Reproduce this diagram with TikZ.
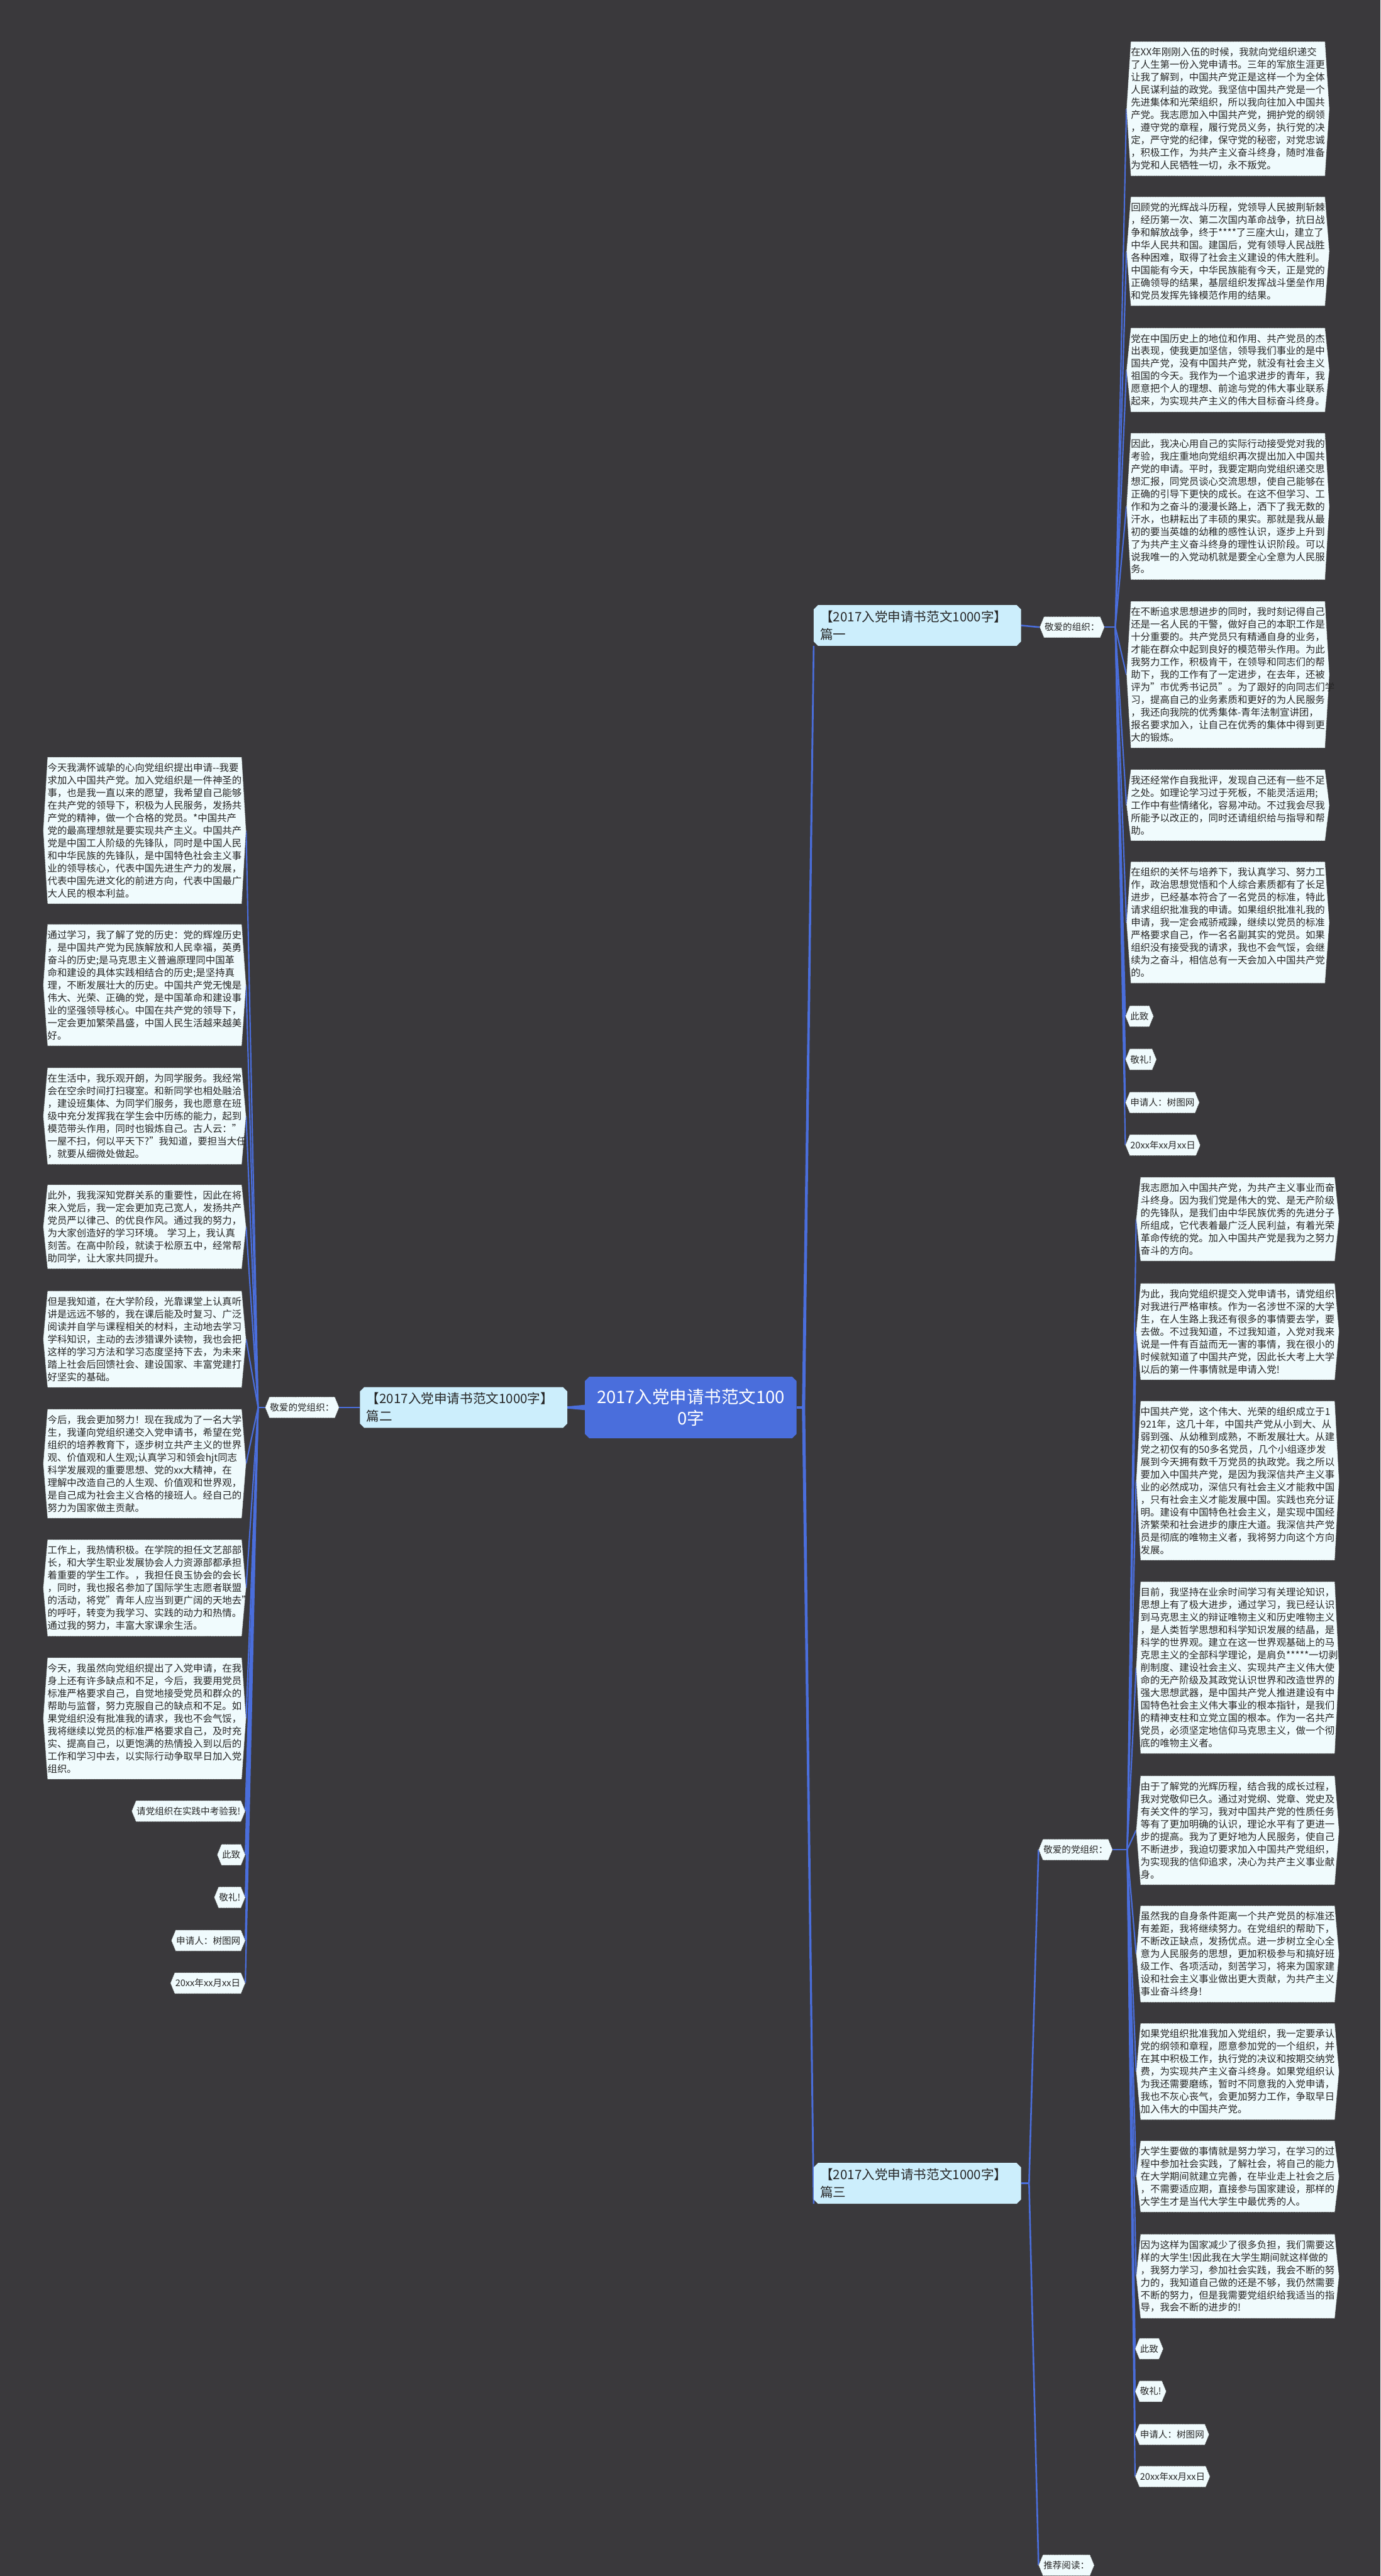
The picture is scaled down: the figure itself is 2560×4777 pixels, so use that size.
\documentclass[tikz,border=0pt]{standalone}
\usepackage{fontspec}
\setmainfont{Noto Sans CJK SC}
\usepackage{tikz}
\definecolor{canvas}{RGB}{58,57,60}
\definecolor{trunk}{RGB}{74,110,220}
\definecolor{paper}{RGB}{240,251,253}
\definecolor{sky}{RGB}{204,238,252}
\definecolor{ink}{RGB}{38,38,38}
\pgfdeclarelayer{bg}\pgfdeclarelayer{edges}\pgfdeclarelayer{frames}
\pgfsetlayers{bg,edges,frames,main}

\begin{document}
\begin{tikzpicture}[x=1pt,y=-1pt,
  para/.style={anchor=north west,text width=360pt,align=left,inner xsep=0pt,inner ysep=11pt,text=ink,font=\fontsize{18}{23.3}\selectfont},
  stub/.style={inner xsep=1pt,inner ysep=11.5pt,text=ink,font=\fontsize{17}{22}\selectfont},
  branch/.style={text=ink,text width=360pt,align=left,inner xsep=12pt,inner ysep=10pt,font=\fontsize{24}{33}\selectfont},
  hexframe/.style={fill=paper,draw=black!75,densely dotted,line width=0.9pt},
  link/.style={draw=trunk,line width=2.5pt},
  ]
\useasboundingbox (0,0) rectangle (2560,4777);
\node[text=white,text width=360pt,align=center,inner xsep=16pt,inner ysep=22pt,font=\fontsize{32}{40}\selectfont] (root) at (1281,2610) {2017入党申请书范文100\\0字};
\node[branch,anchor=north west] (p1) at (1509,1122) {【2017入党申请书范文1000字】\\篇一};
\node[branch,anchor=east] (p2) at (1052,2610) {【2017入党申请书范文1000字】\\篇二};
\node[branch,anchor=north west] (p3) at (1509,4011) {【2017入党申请书范文1000字】\\篇三};
\node[stub,anchor=west] (k1) at (1936,1163) {敬爱的组织：};
\node[stub,anchor=east] (k2) at (621,2610) {敬爱的党组织：};
\node[stub,anchor=west] (k3) at (1934,3430) {敬爱的党组织：};
\node[stub,anchor=west] (k4) at (1934,4757) {推荐阅读：};

\node[para] (r1) at (2097,77) {在XX年刚刚入伍的时候，我就向党组织递交\\了人生第一份入党申请书。三年的军旅生涯更\\让我了解到，中国共产党正是这样一个为全体\\人民谋利益的政党。我坚信中国共产党是一个\\先进集体和光荣组织，所以我向往加入中国共\\产党。我志愿加入中国共产党，拥护党的纲领\\，遵守党的章程，履行党员义务，执行党的决\\定，严守党的纪律，保守党的秘密，对党忠诚\\，积极工作，为共产主义奋斗终身，随时准备\\为党和人民牺牲一切，永不叛党。};
\node[para] (r2) at (2097,365) {回顾党的光辉战斗历程，党领导人民披荆斩棘\\，经历第一次、第二次国内革命战争，抗日战\\争和解放战争，终于****了三座大山，建立了\\中华人民共和国。建国后，党有领导人民战胜\\各种困难，取得了社会主义建设的伟大胜利。\\中国能有今天，中华民族能有今天，正是党的\\正确领导的结果，基层组织发挥战斗堡垒作用\\和党员发挥先锋模范作用的结果。};
\node[para] (r3) at (2097,608) {党在中国历史上的地位和作用、共产党员的杰\\出表现，使我更加坚信，领导我们事业的是中\\国共产党，没有中国共产党，就没有社会主义\\祖国的今天。我作为一个追求进步的青年，我\\愿意把个人的理想、前途与党的伟大事业联系\\起来，为实现共产主义的伟大目标奋斗终身。};
\node[para] (r4) at (2097,803) {因此，我决心用自己的实际行动接受党对我的\\考验，我庄重地向党组织再次提出加入中国共\\产党的申请。平时，我要定期向党组织递交思\\想汇报，同党员谈心交流思想，使自己能够在\\正确的引导下更快的成长。在这不但学习、工\\作和为之奋斗的漫漫长路上，洒下了我无数的\\汗水，也耕耘出了丰硕的果实。那就是我从最\\初的要当英雄的幼稚的感性认识，逐步上升到\\了为共产主义奋斗终身的理性认识阶段。可以\\说我唯一的入党动机就是要全心全意为人民服\\务。};
\node[para] (r5) at (2097,1115) {在不断追求思想进步的同时，我时刻记得自己\\还是一名人民的干警，做好自己的本职工作是\\十分重要的。共产党员只有精通自身的业务，\\才能在群众中起到良好的模范带头作用。为此\\我努力工作，积极肯干，在领导和同志们的帮\\助下，我的工作有了一定进步，在去年，还被\\评为"市优秀书记员"。为了跟好的向同志们学\\习，提高自己的业务素质和更好的为人民服务\\，我还向我院的优秀集体-青年法制宣讲团，\\报名要求加入，让自己在优秀的集体中得到更\\大的锻炼。};
\node[para] (r6) at (2097,1427) {我还经常作自我批评，发现自己还有一些不足\\之处。如理论学习过于死板，不能灵活运用;\\工作中有些情绪化，容易冲动。不过我会尽我\\所能予以改正的，同时还请组织给与指导和帮\\助。};
\node[para] (r7) at (2097,1598) {在组织的关怀与培养下，我认真学习、努力工\\作，政治思想觉悟和个人综合素质都有了长足\\进步，已经基本符合了一名党员的标准，特此\\请求组织批准我的申请。如果组织批准礼我的\\申请，我一定会戒骄戒躁，继续以党员的标准\\严格要求自己，作一名名副其实的党员。如果\\组织没有接受我的请求，我也不会气馁，会继\\续为之奋斗，相信总有一天会加入中国共产党\\的。};
\node[stub,anchor=north west] (r8) at (2095,1865) {此致};
\node[stub,anchor=north west] (r9) at (2095,1945) {敬礼!};
\node[stub,anchor=north west] (r10) at (2095,2025) {申请人：树图网};
\node[stub,anchor=north west] (r11) at (2095,2104) {20xx年xx月xx日};

\node[para] (l1) at (88,1404) {今天我满怀诚挚的心向党组织提出申请-{}-我要\\求加入中国共产党。加入党组织是一件神圣的\\事，也是我一直以来的愿望，我希望自己能够\\在共产党的领导下，积极为人民服务，发扬共\\产党的精神，做一个合格的党员。*中国共产\\党的最高理想就是要实现共产主义。中国共产\\党是中国工人阶级的先锋队，同时是中国人民\\和中华民族的先锋队，是中国特色社会主义事\\业的领导核心，代表中国先进生产力的发展，\\代表中国先进文化的前进方向，代表中国最广\\大人民的根本利益。};
\node[para] (l2) at (88,1714) {通过学习，我了解了党的历史：党的辉煌历史\\，是中国共产党为民族解放和人民幸福，英勇\\奋斗的历史;是马克思主义普遍原理同中国革\\命和建设的具体实践相结合的历史;是坚持真\\理，不断发展壮大的历史。中国共产党无愧是\\伟大、光荣、正确的党，是中国革命和建设事\\业的坚强领导核心。中国在共产党的领导下，\\一定会更加繁荣昌盛，中国人民生活越来越美\\好。};
\node[para] (l3) at (88,1980) {在生活中，我乐观开朗，为同学服务。我经常\\会在空余时间打扫寝室。和新同学也相处融洽\\，建设班集体、为同学们服务，我也愿意在班\\级中充分发挥我在学生会中历练的能力，起到\\模范带头作用，同时也锻炼自己。古人云："\\一屋不扫，何以平天下?"我知道，要担当大任\\，就要从细微处做起。};
\node[para] (l4) at (88,2197) {此外，我我深知党群关系的重要性，因此在将\\来入党后，我一定会更加克己宽人，发扬共产\\党员严以律己、的优良作风。通过我的努力，\\为大家创造好的学习环境。 学习上，我认真\\刻苦。在高中阶段，就读于松原五中，经常帮\\助同学，让大家共同提升。};
\node[para] (l5) at (88,2394) {但是我知道，在大学阶段，光靠课堂上认真听\\讲是远远不够的，我在课后能及时复习、广泛\\阅读并自学与课程相关的材料，主动地去学习\\学科知识，主动的去涉猎课外读物，我也会把\\这样的学习方法和学习态度坚持下去，为未来\\踏上社会后回馈社会、建设国家、丰富党建打\\好坚实的基础。};
\node[para] (l6) at (88,2613) {今后，我会更加努力！现在我成为了一名大学\\生，我谨向党组织递交入党申请书，希望在党\\组织的培养教育下，逐步树立共产主义的世界\\观、价值观和人生观;认真学习和领会hjt同志\\科学发展观的重要思想、党的xx大精神，在\\理解中改造自己的人生观、价值观和世界观，\\是自己成为社会主义合格的接班人。经自己的\\努力为国家做主贡献。};
\node[para] (l7) at (88,2855) {工作上，我热情积极。在学院的担任文艺部部\\长，和大学生职业发展协会人力资源部都承担\\着重要的学生工作。，我担任良玉协会的会长\\，同时，我也报名参加了国际学生志愿者联盟\\的活动，将党"青年人应当到更广阔的天地去"\\的呼吁，转变为我学习、实践的动力和热情。\\通过我的努力，丰富大家课余生活。};
\node[para] (l8) at (88,3074) {今天，我虽然向党组织提出了入党申请，在我\\身上还有许多缺点和不足，今后，我要用党员\\标准严格要求自己，自觉地接受党员和群众的\\帮助与监督，努力克服自己的缺点和不足。如\\果党组织没有批准我的请求，我也不会气馁，\\我将继续以党员的标准严格要求自己，及时充\\实、提高自己，以更饱满的热情投入到以后的\\工作和学习中去，以实际行动争取早日加入党\\组织。};
\node[stub,anchor=north east] (l9) at (447,3339) {请党组织在实践中考验我!};
\node[stub,anchor=north east] (l10) at (447,3420) {此致};
\node[stub,anchor=north east] (l11) at (447,3499) {敬礼!};
\node[stub,anchor=north east] (l12) at (447,3579) {申请人：树图网};
\node[stub,anchor=north east] (l13) at (447,3658) {20xx年xx月xx日};

\node[para] (b1) at (2115,2183) {我志愿加入中国共产党，为共产主义事业而奋\\斗终身。因为我们党是伟大的党、是无产阶级\\的先锋队，是我们由中华民族优秀的先进分子\\所组成，它代表着最广泛人民利益，有着光荣\\革命传统的党。加入中国共产党是我为之努力\\奋斗的方向。};
\node[para] (b2) at (2115,2380) {为此，我向党组织提交入党申请书，请党组织\\对我进行严格审核。作为一名涉世不深的大学\\生，在人生路上我还有很多的事情要去学，要\\去做。不过我知道，不过我知道，入党对我来\\说是一件有百益而无一害的事情，我在很小的\\时候就知道了中国共产党，因此长大考上大学\\以后的第一件事情就是申请入党!};
\node[para] (b3) at (2115,2598) {中国共产党，这个伟大、光荣的组织成立于1\\921年，这几十年，中国共产党从小到大、从\\弱到强、从幼稚到成熟，不断发展壮大。从建\\党之初仅有的50多名党员，几个小组逐步发\\展到今天拥有数千万党员的执政党。我之所以\\要加入中国共产党，是因为我深信共产主义事\\业的必然成功，深信只有社会主义才能救中国\\，只有社会主义才能发展中国。实践也充分证\\明。建设有中国特色社会主义，是实现中国经\\济繁荣和社会进步的康庄大道。我深信共产党\\员是彻底的唯物主义者，我将努力向这个方向\\发展。};
\node[para] (b4) at (2115,2933) {目前，我坚持在业余时间学习有关理论知识，\\思想上有了极大进步，通过学习，我已经认识\\到马克思主义的辩证唯物主义和历史唯物主义\\，是人类哲学思想和科学知识发展的结晶，是\\科学的世界观。建立在这一世界观基础上的马\\克思主义的全部科学理论，是肩负*****一切剥\\削制度、建设社会主义、实现共产主义伟大使\\命的无产阶级及其政党认识世界和改造世界的\\强大思想武器，是中国共产党人推进建设有中\\国特色社会主义伟大事业的根本指针，是我们\\的精神支柱和立党立国的根本。作为一名共产\\党员，必须坚定地信仰马克思主义，做一个彻\\底的唯物主义者。};
\node[para] (b5) at (2115,3293) {由于了解党的光辉历程，结合我的成长过程，\\我对党敬仰已久。通过对党纲、党章、党史及\\有关文件的学习，我对中国共产党的性质任务\\等有了更加明确的认识，理论水平有了更进一\\步的提高。我为了更好地为人民服务，使自己\\不断进步，我迫切要求加入中国共产党组织，\\为实现我的信仰追求，决心为共产主义事业献\\身。};
\node[para] (b6) at (2115,3534) {虽然我的自身条件距离一个共产党员的标准还\\有差距，我将继续努力。在党组织的帮助下，\\不断改正缺点，发扬优点。进一步树立全心全\\意为人民服务的思想，更加积极参与和搞好班\\级工作、各项活动，刻苦学习，将来为国家建\\设和社会主义事业做出更大贡献，为共产主义\\事业奋斗终身!};
\node[para] (b7) at (2115,3752) {如果党组织批准我加入党组织，我一定要承认\\党的纲领和章程，愿意参加党的一个组织，并\\在其中积极工作，执行党的决议和按期交纳党\\费，为实现共产主义奋斗终身。如果党组织认\\为我还需要磨练，暂时不同意我的入党申请，\\我也不灰心丧气，会更加努力工作，争取早日\\加入伟大的中国共产党。};
\node[para] (b8) at (2115,3970) {大学生要做的事情就是努力学习，在学习的过\\程中参加社会实践，了解社会，将自己的能力\\在大学期间就建立完善，在毕业走上社会之后\\，不需要适应期，直接参与国家建设，那样的\\大学生才是当代大学生中最优秀的人。};
\node[para] (b9) at (2115,4143) {因为这样为国家减少了很多负担，我们需要这\\样的大学生!因此我在大学生期间就这样做的\\，我努力学习，参加社会实践，我会不断的努\\力的，我知道自己做的还是不够，我仍然需要\\不断的努力，但是我需要党组织给我适当的指\\导，我会不断的进步的!};
\node[stub,anchor=north west] (b10) at (2113,4336) {此致};
\node[stub,anchor=north west] (b11) at (2113,4415) {敬礼!};
\node[stub,anchor=north west] (b12) at (2113,4495) {申请人：树图网};
\node[stub,anchor=north west] (b13) at (2113,4573) {20xx年xx月xx日};

\begin{pgfonlayer}{bg}
\fill[canvas] (0,0) rectangle (2560,4777);
\end{pgfonlayer}

\begin{pgfonlayer}{frames}
\foreach \nd/\col in {root/trunk,p1/sky,p2/sky,p3/sky}
  \fill[\col] ([xshift=8pt]\nd.north west) -- ([xshift=-8pt]\nd.north east) -- ([yshift=-8pt]\nd.north east) -- ([yshift=8pt]\nd.south east) -- ([xshift=-8pt]\nd.south east) -- ([xshift=8pt]\nd.south west) -- ([yshift=8pt]\nd.south west) -- ([yshift=-8pt]\nd.north west) -- cycle;
\foreach \i in {1,...,11}
  \path[hexframe] (r\i.north west) -- (r\i.north east) -- ([xshift=8pt]r\i.east) -- (r\i.south east) -- (r\i.south west) -- ([xshift=-8pt]r\i.west) -- cycle;
\foreach \i in {1,...,13}
  \path[hexframe] (l\i.north west) -- (l\i.north east) -- ([xshift=8pt]l\i.east) -- (l\i.south east) -- (l\i.south west) -- ([xshift=-8pt]l\i.west) -- cycle;
\foreach \i in {1,...,13}
  \path[hexframe] (b\i.north west) -- (b\i.north east) -- ([xshift=8pt]b\i.east) -- (b\i.south east) -- (b\i.south west) -- ([xshift=-8pt]b\i.west) -- cycle;
\foreach \i in {1,...,4}
  \path[hexframe] (k\i.north west) -- (k\i.north east) -- ([xshift=8pt]k\i.east) -- (k\i.south east) -- (k\i.south west) -- ([xshift=-8pt]k\i.west) -- cycle;
\end{pgfonlayer}

\begin{pgfonlayer}{edges}
\coordinate (hub) at ([xshift=13pt]root.east);
\coordinate (hR) at ([xshift=28pt]k1.east);
\coordinate (hL) at ([xshift=-21pt]k2.west);
\coordinate (h3) at ([xshift=15pt]p3.east);
\coordinate (hB) at ([xshift=35pt]k3.east);
\draw[link,line width=5pt] (root.east) -- (hub);
\fill[trunk] ([xshift=-3pt]hub) -- ([xshift=3pt]hub) -- ([xshift=1.5pt]p1.south west) -- ([xshift=-1.5pt]p1.south west) -- cycle;
\fill[trunk] ([xshift=-3pt]hub) -- ([xshift=3pt]hub) -- ([xshift=1.5pt]p3.south west) -- ([xshift=-1.5pt]p3.south west) -- cycle;
\fill[trunk] ([yshift=5pt]root.west) -- ([yshift=-5pt]root.west) -- ([yshift=-2pt]p2.east) -- ([yshift=2pt]p2.east) -- cycle;
\draw[link,line width=3pt] (p1.east) -- ([xshift=-8pt]k1.west);
\draw[link,line width=3pt] (p2.west) -- ([xshift=8pt]k2.east);
\draw[link,line width=3pt] (p3.east) -- (h3);
\draw[link,line width=3pt] (h3) -- ([xshift=-8pt]k3.west);
\draw[link,line width=3pt] (h3) -- ([xshift=-8pt]k4.west);
\draw[link] ([xshift=8pt]k1.east) -- (hR);
\draw[link] ([xshift=-8pt]k2.west) -- (hL);
\draw[link] ([xshift=8pt]k3.east) -- (hB);
\foreach \i in {1,...,11} \draw[link] (hR) -- ([xshift=-8pt]r\i.west);
\foreach \i in {1,...,13} \draw[link] (hL) -- ([xshift=8pt]l\i.east);
\foreach \i in {1,...,13} \draw[link] (hB) -- ([xshift=-8pt]b\i.west);
\end{pgfonlayer}
\end{tikzpicture}
\end{document}
